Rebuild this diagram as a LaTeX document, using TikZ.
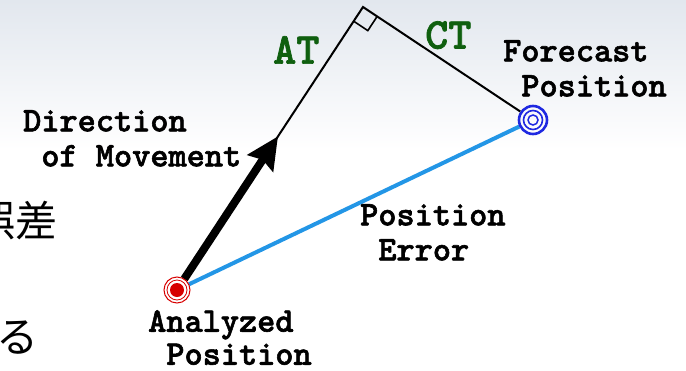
\documentclass[tikz,border=0pt]{standalone}
\usepackage{fontspec}
\newfontfamily\labelfont{lmmonolt10-bold}[Extension=.otf,FakeBold=1.6]
\newfontfamily\jpfont{Noto Sans CJK JP}
\usetikzlibrary{arrows.meta,calc}
\definecolor{bgtop}{RGB}{226,231,238}
\definecolor{errblue}{RGB}{35,150,230}
\definecolor{fcblue}{RGB}{30,40,225}
\definecolor{anred}{RGB}{215,0,0}
\definecolor{trackgreen}{RGB}{15,95,15}
\begin{document}
\begin{tikzpicture}[x=1pt,y=-1pt,
        lbl/.style={inner sep=0pt,anchor=north west,align=left,font=\labelfont\fontsize{34.6}{35}\selectfont},
        track/.style={inner sep=0pt,anchor=north west,text=trackgreen,font=\labelfont\fontsize{44}{44}\selectfont},
        jp/.style={inner sep=0pt,anchor=east,font=\jpfont\fontsize{42}{46}\selectfont},
        target/.style={circle,inner sep=0pt,minimum size=#1}]
    \useasboundingbox (0,0) rectangle (686,370);
    \clip (0,0) rectangle (686,370);
    \shade [top color=bgtop,bottom color=white] (0,0) rectangle (686,150);
    \node [jp] (err) at (58,221) {誤差};
    \node [jp] (ru) at (39,338) {る};
    \node [target=26pt] (ana) at (177,290) {};
    \node [target=30pt] (fc) at (533,120) {};
    \coordinate (c) at (363,7);
    \coordinate (tip) at ($(ana.center)!0.543!(c)$);
    \draw [line width=2pt] (ana) -- (c) -- (fc);
    \draw [errblue,line width=4pt] (ana) -- (fc);
    \draw [line width=8pt,-{Stealth[length=32pt,width=30pt,inset=4pt]}] (ana) -- (tip);
    % right angle
    \coordinate (p1) at ($(c)!17pt!(ana.center)$);
    \coordinate (p2) at ($(c)!17pt!(fc.center)$);
    \draw [line width=1.6pt] (p1) -- ($(p1)+(p2)-(c)$) -- (p2);
    % markers
    \draw [anred,line width=1pt] (ana.center) circle [radius=13];
    \draw [anred,line width=0.8pt] (ana.center) circle [radius=10];
    \fill [anred] (ana.center) circle [radius=7];
    \draw [fcblue,line width=2.6pt] (fc.center) circle [radius=14];
    \draw [fcblue,line width=1.6pt] (fc.center) circle [radius=9.5];
    \draw [fcblue,line width=1.5pt] (fc.center) circle [radius=5];
    \node [lbl] (dir) at (23,110) {Direction\\~of Movement};
    \node [lbl] (fcl) at (503,40) {Forecast\\~Position};
    \node [lbl] (perr) at (360,204) {Position\\~Error};
    \node [lbl,font=\labelfont\fontsize{34.6}{33}\selectfont] (anl) at (148,310) {Analyzed\\~Position};
    \node [track] (at) at (273,36) {AT};
    \node [track] (ct) at (425,21) {CT};
\end{tikzpicture}
\end{document}
